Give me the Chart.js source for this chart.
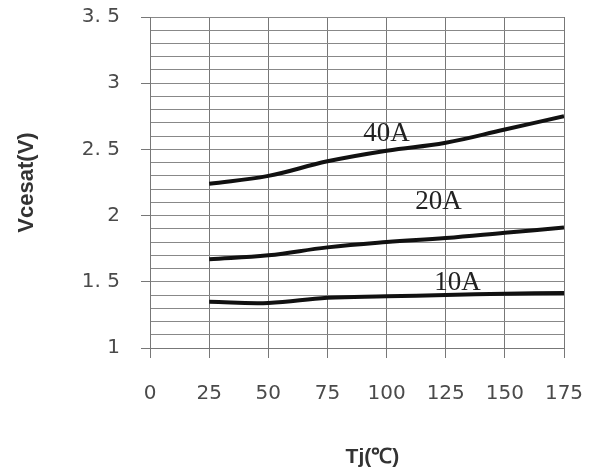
<!DOCTYPE html>
<html>
<head>
<meta charset="utf-8">
<script src="https://cdn.jsdelivr.net/npm/chart.js@4/dist/chart.umd.min.js"></script>
<style>
  html, body { margin: 0; padding: 0; background: #fff; }
  #wrap { width: 595px; height: 473px; }
</style>
</head>
<body>
<div id="wrap"><canvas id="vce"></canvas></div>
<script>
// junction temperature (°C) and Vcesat (V)
const tempC  = [25, 50, 75, 100, 125, 150, 175];
const vce40A = [2.24, 2.30, 2.41, 2.49, 2.55, 2.65, 2.75];
const vce20A = [1.67, 1.70, 1.76, 1.80, 1.83, 1.87, 1.91];
const vce10A = [1.35, 1.34, 1.38, 1.39, 1.40, 1.41, 1.415];

// curve labels: [text, x, y] in data units
const curveLabels = [
  ["40A", 100, 2.62],
  ["20A", 122, 2.10],
  ["10A", 130, 1.49],
];

const xTitle = "Tj(\u2103)";
const yTitle = "Vcesat(V)";

const pts = (ys) => tempC.map((t, i) => ({ x: t, y: ys[i] }));

function curve(label, ys) {
  return {
    label,
    data: pts(ys),
    borderColor: "#111",
    borderWidth: 4,
    pointRadius: 0,
    tension: 0.4,
    fill: false,
  };
}

// y tick text like "3. 5"
const yTickText = (v) => {
  const r = Math.round(v * 10);
  if (r % 5 !== 0) return "";
  return r % 10 === 0 ? String(r / 10) : (Math.floor(r / 10) + ". 5");
};

const labelsPlugin = {
  id: "curveText",
  afterDatasetsDraw(chart) {
    const { ctx, scales: { x, y } } = chart;
    ctx.save();
    ctx.fillStyle = "#222";
    ctx.textAlign = "center";
    ctx.textBaseline = "middle";
    ctx.font = "27px 'Liberation Serif'";
    curveLabels.forEach(([t, vx, vy]) => {
      ctx.fillText(t, x.getPixelForValue(vx), y.getPixelForValue(vy));
    });
    // x axis title, sits a bit right of plot centre in the original
    ctx.fillStyle = "#333";
    ctx.font = "bold 21px 'Liberation Sans'";
    ctx.fillText(xTitle, x.getPixelForValue(94), chart.height - 16);
    ctx.restore();
  },
};

new Chart(document.getElementById("vce"), {
  type: "line",
  data: {
    datasets: [
      curve("40A", vce40A),
      curve("20A", vce20A),
      curve("10A", vce10A),
    ],
  },
  options: {
    responsive: true,
    maintainAspectRatio: false,
    animation: false,
    layout: { padding: { top: 17, right: 31, left: 0, bottom: 0 } },
    plugins: { legend: { display: false }, tooltip: { enabled: false } },
    scales: {
      x: {
        type: "linear",
        min: 0,
        max: 175,
        ticks: {
          stepSize: 25,
          color: "#4a4a4a",
          font: { family: "'DejaVu Sans'", size: 20 },
          padding: 24,
          maxRotation: 0,
        },
        grid: { color: "#777", lineWidth: 1, tickLength: 10 },
        border: { display: true, color: "#777" },
        afterFit: (s) => {
          s.height = 125;
          s.paddingLeft = 0;
          s.paddingRight = 0;
        },
      },
      y: {
        min: 1,
        max: 3.5,
        ticks: {
          stepSize: 0.1,
          autoSkip: false,
          color: "#4a4a4a",
          font: { family: "'DejaVu Sans'", size: 20 },
          padding: 21,
          callback: (v) => yTickText(v),
        },
        grid: {
          color: "#888",
          lineWidth: 1,
          tickLength: 9,
          tickColor: (c) => (Math.round(c.tick.value * 10) % 5 === 0 ? "#777" : "rgba(0,0,0,0)"),
        },
        border: { display: true, color: "#777" },
        title: {
          display: true,
          text: yTitle,
          color: "#333",
          font: { family: "'Liberation Sans'", size: 22, weight: "bold" },
          padding: { top: 14, bottom: 0 },
        },
        afterFit: (s) => {
          s.width = 150;
          s.paddingTop = 0;
          s.paddingBottom = 0;
        },
      },
    },
  },
  plugins: [labelsPlugin],
});
</script>
</body>
</html>
